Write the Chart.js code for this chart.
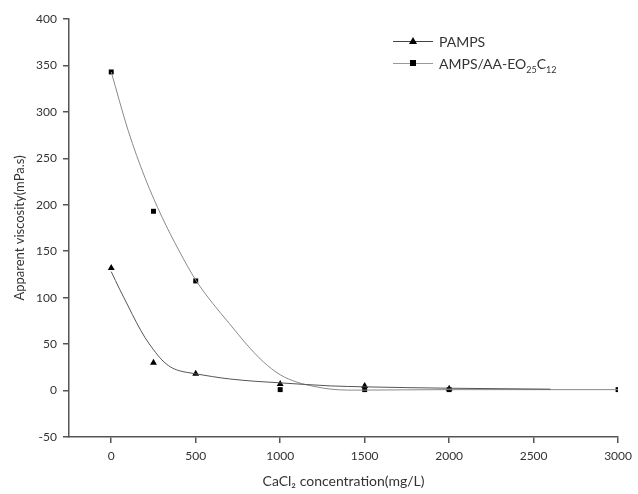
<!DOCTYPE html>
<html>
<head>
<meta charset="utf-8">
<script src="https://cdn.jsdelivr.net/npm/chart.js@4.4.1/dist/chart.umd.min.js"></script>
<style>
  body { margin: 0; background: #fff; }
  #wrap { position: relative; width: 638px; height: 494px; }
  #legend { position: absolute; left: 393px; top: 30px; font-family: Lato, "Open Sans", sans-serif; font-size: 14px; color: #333; }
  .row { display: flex; align-items: center; height: 22px; }
  .swatch { position: relative; width: 40px; height: 1px; margin-right: 6px; }
  .sq { position: absolute; left: 17px; top: -3px; width: 6px; height: 6px; background: #000; }
  .tri { position: absolute; left: 16px; top: -4px; width: 0; height: 0; border-left: 4px solid transparent; border-right: 4px solid transparent; border-bottom: 7px solid #000; }
  .sb { font-size: 9px; position: relative; top: 6px; }
</style>
</head>
<body>
<div id="wrap">
  <canvas id="chart" width="638" height="494"></canvas>
  <div id="legend">
    <div class="row"><span class="swatch" style="background:#444"><span class="tri"></span></span>PAMPS</div>
    <div class="row"><span class="swatch" style="background:#999"><span class="sq"></span></span>AMPS/AA-EO<span class="sb">25</span>C<span class="sb">12</span></div>
  </div>
</div>
<script>
// measured points
const pampsX = [0, 250, 500, 1000, 1500, 2000];
const pampsY = [132, 30, 18, 7, 5, 2];
const ampsX = [0, 250, 500, 1000, 1500, 2000, 3000];
const ampsY = [343, 193, 118, 1, 1, 1, 1];

// fitted curves
const pampsFitX = [0, 50, 100, 150, 200, 250, 300, 350, 400, 450, 500, 600, 700, 850, 1000, 1300, 1500, 2000, 2600];
const pampsFitY = [128, 109, 91, 73, 57, 44, 33, 25.5, 21.5, 19.5, 18, 15, 12.5, 10, 8.3, 5, 4, 2.5, 1.5];
const ampsFitX = [0, 100, 200, 300, 400, 500, 600, 700, 800, 900, 1000, 1100, 1200, 1300, 1400, 1500, 2000, 3000];
const ampsFitY = [343, 280, 229, 187, 151, 119, 94, 72, 50, 31, 17, 9, 4.5, 1.5, 0.5, 0.5, 1, 1];

const xTicks = [0, 500, 1000, 1500, 2000, 2500, 3000];
const yTicks = [-50, 0, 50, 100, 150, 200, 250, 300, 350, 400];

const toPts = (xs, ys) => xs.map((x, i) => ({ x: x, y: ys[i] }));
const font = { family: 'Lato, "Open Sans", sans-serif', size: 12 };
const axisColor = '#555';

new Chart(document.getElementById('chart'), {
  type: 'scatter',
  data: {
    datasets: [
      {
        label: 'PAMPS fit',
        data: toPts(pampsFitX, pampsFitY),
        showLine: true,
        borderColor: '#555',
        borderWidth: 1,
        pointRadius: 0,
        cubicInterpolationMode: 'monotone'
      },
      {
        label: 'AMPS fit',
        data: toPts(ampsFitX, ampsFitY),
        showLine: true,
        borderColor: '#8a8a8a',
        borderWidth: 1,
        pointRadius: 0,
        cubicInterpolationMode: 'monotone'
      },
      {
        label: 'PAMPS',
        data: toPts(pampsX, pampsY),
        pointStyle: 'triangle',
        pointRadius: 4,
        backgroundColor: '#000',
        borderColor: '#000',
        borderWidth: 0
      },
      {
        label: 'AMPS/AA-EO25C12',
        data: toPts(ampsX, ampsY),
        pointStyle: 'rect',
        pointRadius: 3.5,
        backgroundColor: '#000',
        borderColor: '#000',
        borderWidth: 0
      }
    ]
  },
  options: {
    responsive: false,
    animation: false,
    layout: { padding: { top: 19, right: 16, left: 0, bottom: 0 } },
    plugins: { legend: { display: false }, tooltip: { enabled: false } },
    scales: {
      x: {
        type: 'linear',
        min: -250,
        max: 3000,
        afterBuildTicks: s => { s.ticks = xTicks.map(v => ({ value: v })); },
        afterFit: s => { s.height = 57; },
        grid: { drawOnChartArea: false, drawTicks: true, tickLength: 6, color: axisColor, lineWidth: 1.5 },
        border: { color: axisColor, width: 1.5 },
        ticks: { color: '#333', font: font, padding: 6, maxRotation: 0, callback: v => String(v) },
        title: { display: true, text: 'CaCl\u2082 concentration(mg/L)', color: '#333', font: { family: font.family, size: 14 }, padding: { top: 2 } }
      },
      y: {
        type: 'linear',
        min: -50,
        max: 400,
        afterBuildTicks: s => { s.ticks = yTicks.map(v => ({ value: v })); },
        afterFit: s => { s.width = 69; },
        grid: { drawOnChartArea: false, drawTicks: true, tickLength: 6, color: axisColor, lineWidth: 1.5 },
        border: { color: axisColor, width: 1.5 },
        ticks: { color: '#333', font: font, padding: 6, callback: v => String(v) },
        title: { display: true, text: 'Apparent viscosity(mPa.s)', color: '#333', font: { family: font.family, size: 13 }, padding: { top: 12, bottom: 0 } }
      }
    }
  }
});
</script>
</body>
</html>
